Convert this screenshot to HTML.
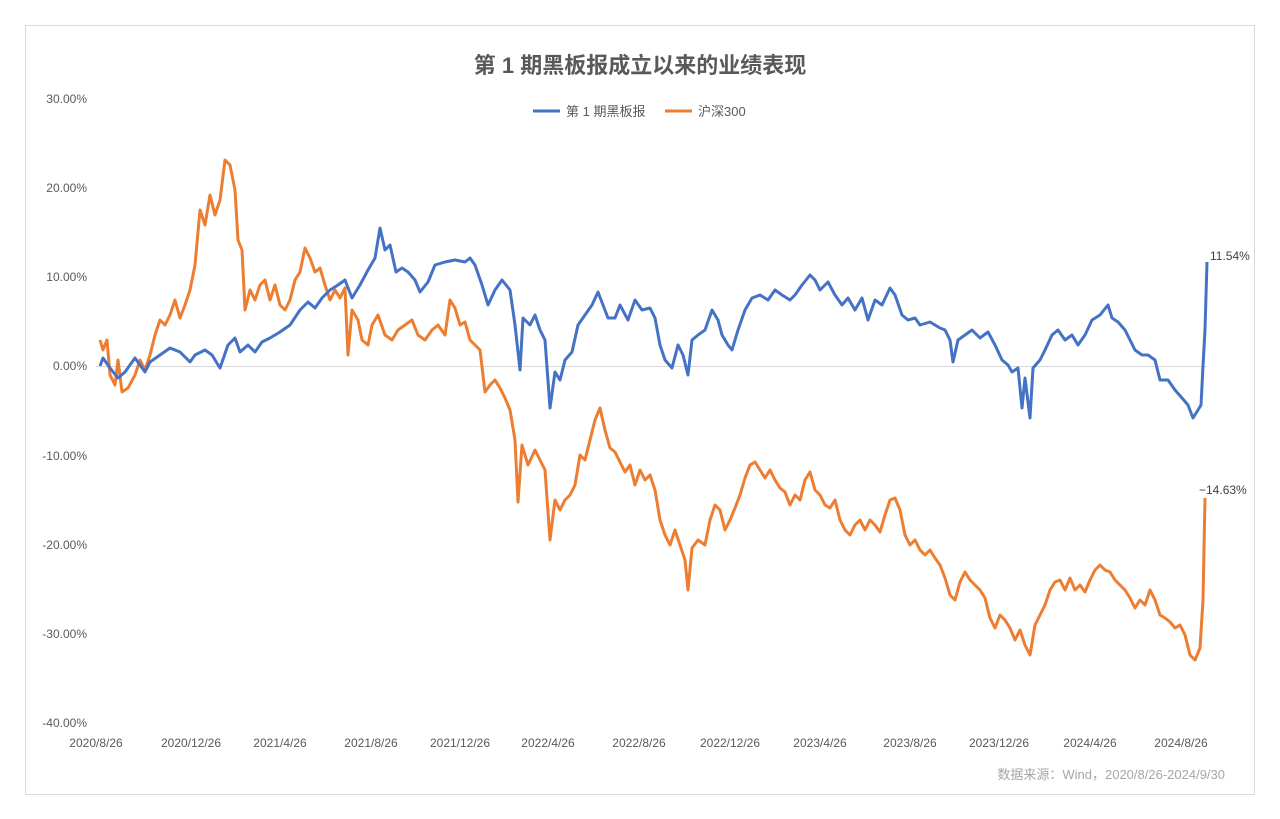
<!DOCTYPE html>
<html><head><meta charset="utf-8"><style>
html,body{margin:0;padding:0;background:#fff;}
body{width:1280px;height:819px;position:relative;overflow:hidden;font-family:"Liberation Sans","Noto Sans CJK SC",sans-serif;}
</style></head><body>
<svg width="1280" height="819" xmlns="http://www.w3.org/2000/svg" style="position:absolute;left:0;top:0">
<rect x="25.5" y="25.5" width="1229" height="769" fill="#fff" stroke="#d9d9d9"/>
<text x="640" y="73" text-anchor="middle" font-size="22" font-weight="bold" fill="#595959" font-family="Liberation Sans, Noto Sans CJK SC, sans-serif">第 1 期黑板报成立以来的业绩表现</text>
<line x1="533" y1="111" x2="560" y2="111" stroke="#4472c4" stroke-width="3"/>
<text x="566" y="116" font-size="13" fill="#595959">第 1 期黑板报</text>
<line x1="665" y1="111" x2="692" y2="111" stroke="#ed7d31" stroke-width="3"/>
<text x="698" y="116" font-size="13" fill="#595959">沪深300</text>
<g font-size="12" fill="#595959" text-anchor="end">
<text x="87" y="103">30.00%</text><text x="87" y="192">20.00%</text><text x="87" y="281">10.00%</text>
<text x="87" y="370">0.00%</text><text x="87" y="460">-10.00%</text><text x="87" y="549">-20.00%</text>
<text x="87" y="638">-30.00%</text><text x="87" y="727">-40.00%</text>
</g>
<line x1="96" y1="366.5" x2="1207" y2="366.5" stroke="#d9d9d9"/>
<g font-size="12" fill="#595959" text-anchor="middle">
<text x="96" y="747">2020/8/26</text><text x="191" y="747">2020/12/26</text><text x="280" y="747">2021/4/26</text>
<text x="371" y="747">2021/8/26</text><text x="460" y="747">2021/12/26</text><text x="548" y="747">2022/4/26</text>
<text x="639" y="747">2022/8/26</text><text x="730" y="747">2022/12/26</text><text x="820" y="747">2023/4/26</text>
<text x="910" y="747">2023/8/26</text><text x="999" y="747">2023/12/26</text><text x="1090" y="747">2024/4/26</text>
<text x="1181" y="747">2024/8/26</text>
</g>
<text x="1225" y="779" font-size="13" fill="#a6a6a6" text-anchor="end">数据来源：Wind，2020/8/26-2024/9/30</text>
<polyline fill="none" stroke="#ed7d31" stroke-width="3" stroke-linejoin="round" points="100,340 103,350 107,340 110,375 115,385 118,360 122,392 128,388 135,375 140,360 145,370 150,355 155,335 160,320 165,325 170,315 175,300 180,318 185,305 190,290 195,265 200,210 205,225 210,195 215,215 220,200 225,160 230,165 235,190 238,240 242,250 245,310 250,290 255,300 260,285 265,280 270,300 275,285 280,305 285,310 290,300 295,280 300,272 305,248 310,258 315,272 320,268 325,285 330,300 335,290 340,298 345,288 348,355 352,310 358,320 362,340 368,345 372,325 378,315 385,335 392,340 398,330 405,325 412,320 418,335 425,340 432,330 438,325 445,335 450,300 455,308 460,325 465,322 470,340 475,345 480,350 485,392 490,385 495,380 500,388 505,398 510,410 515,440 518,502 522,445 528,465 535,450 540,460 545,470 550,540 555,500 560,510 565,500 570,495 575,485 580,455 585,460 590,440 595,420 600,408 605,430 610,448 615,452 620,462 625,472 630,465 635,485 640,470 645,480 650,475 655,490 660,520 665,535 670,545 675,530 680,545 685,560 688,590 692,548 698,540 705,545 710,520 715,505 720,510 725,530 730,520 735,508 740,495 745,478 750,465 755,462 760,470 765,478 770,470 775,480 780,488 785,492 790,505 795,495 800,500 805,480 810,472 815,490 820,495 825,505 830,508 835,500 840,520 845,530 850,535 855,525 860,520 865,530 870,520 875,525 880,532 885,515 890,500 895,498 900,510 905,535 910,545 915,540 920,550 925,555 930,550 935,558 940,565 945,578 950,595 955,600 960,582 965,572 970,580 975,585 980,590 985,598 990,618 995,628 1000,615 1005,620 1010,628 1015,640 1020,630 1025,645 1030,655 1035,625 1040,615 1045,605 1050,590 1055,582 1060,580 1065,590 1070,578 1075,590 1080,585 1085,592 1090,580 1095,570 1100,565 1105,570 1110,572 1115,580 1120,585 1125,590 1130,598 1135,608 1140,600 1145,605 1150,590 1155,600 1160,615 1165,618 1170,622 1175,628 1180,625 1185,635 1190,655 1195,660 1200,648 1203,600 1205,498"/>
<polyline fill="none" stroke="#4472c4" stroke-width="3" stroke-linejoin="round" points="100,366 103,358 110,368 118,378 125,372 135,358 145,372 150,362 160,355 170,348 180,352 190,362 195,355 205,350 212,355 220,368 228,345 235,338 240,352 248,345 255,352 262,342 270,338 280,332 290,325 300,310 308,302 315,308 322,298 330,290 338,285 345,280 352,298 360,285 368,270 375,258 380,228 385,250 390,245 396,272 402,268 408,272 415,280 420,292 428,282 435,265 445,262 455,260 465,262 470,258 475,265 482,285 488,305 495,290 502,280 510,290 515,325 520,370 523,318 530,325 535,315 540,330 545,340 550,408 555,372 560,380 565,360 572,352 578,325 585,315 592,305 598,292 603,305 608,318 615,318 620,305 628,320 635,300 642,310 650,308 655,318 660,345 665,360 672,368 678,345 683,355 688,375 692,340 698,335 705,330 712,310 718,320 722,335 728,345 732,350 738,330 745,310 752,298 760,295 768,300 775,290 782,295 790,300 795,295 802,285 810,275 815,280 820,290 828,282 835,295 842,305 848,298 855,310 862,298 868,320 875,300 882,305 890,288 895,295 902,315 908,320 915,318 920,325 930,322 940,328 945,330 950,340 953,362 958,340 965,335 972,330 980,338 988,332 995,345 1002,360 1008,365 1012,372 1018,368 1022,408 1025,378 1030,418 1033,368 1040,360 1045,350 1052,335 1058,330 1065,340 1072,335 1078,345 1085,335 1092,320 1100,315 1108,305 1112,318 1118,322 1125,330 1130,340 1135,350 1142,355 1148,355 1155,360 1160,380 1168,380 1175,390 1182,398 1188,405 1193,418 1198,410 1201,405 1203,366 1205,330 1207,262"/>
<text x="1210" y="260" font-size="12" fill="#404040">11.54%</text>
<text x="1199" y="494" font-size="12" fill="#404040">−14.63%</text>
</svg>
</body></html>
